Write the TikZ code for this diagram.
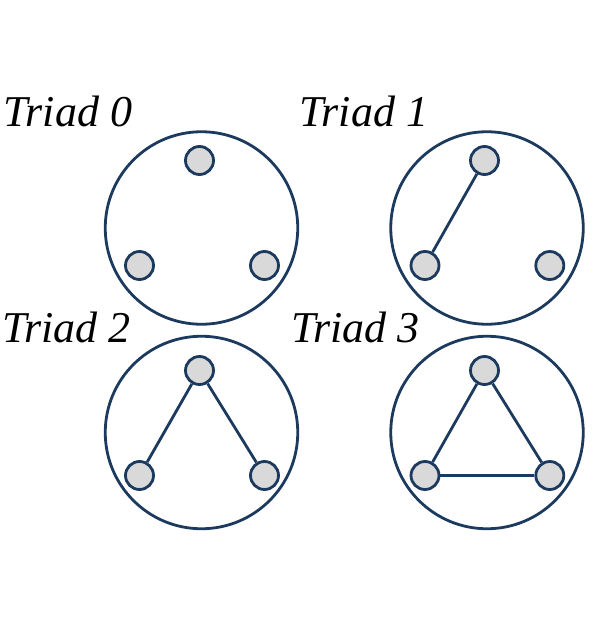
\documentclass[tikz,border=0pt]{standalone}
\usepackage{fontspec}
\setmainfont{Liberation Serif}
\usepackage{xcolor}
\definecolor{ringblue}{HTML}{1C3A5E}
\definecolor{dotgray}{HTML}{D9D9D9}

\begin{document}
\begin{tikzpicture}[x=1pt, y=-1pt,
    ring/.style={circle, draw=ringblue, line width=2.8pt, inner sep=0pt, minimum size=192.5pt},
    member/.style={circle, draw=ringblue, fill=dotgray, line width=2.8pt, inner sep=0pt, minimum size=28pt},
    tie/.style={draw=ringblue, line width=2.8pt},
    title/.style={anchor=base west, inner sep=0pt, font=\fontsize{44}{52}\selectfont\itshape}]
                    \useasboundingbox (0,0) rectangle (598,639);
                    % Triad 0
                    \node[title] (name0) at (3.5,126.7) {Triad 0};
                    \node[ring] (ring0) at (201.5,228) {};
                    \node[member] (a0) at (199.5,160.5) {};
                    \node[member] (b0) at (139.5,265.5) {};
                    \node[member] (c0) at (264.5,265.5) {};
                    % Triad 1
                    \node[title] (name1) at (299.5,126.7) {Triad 1};
                    \node[ring] (ring1) at (487,228) {};
                    \node[member] (a1) at (484.5,160.5) {};
                    \node[member] (b1) at (425,265.5) {};
                    \node[member] (c1) at (549.8,265.5) {};
                    \draw[tie] (a1) -- (b1);
                    % Triad 2
                    \node[title] (name2) at (2,342.7) {Triad 2};
                    \node[ring] (ring2) at (201.5,432.5) {};
                    \node[member] (a2) at (199.5,370.5) {};
                    \node[member] (b2) at (139.5,475.5) {};
                    \node[member] (c2) at (264.5,475.5) {};
                    \draw[tie] (a2) -- (b2);
                    \draw[tie] (a2) -- (c2);
                    % Triad 3
                    \node[title] (name3) at (291,342.7) {Triad 3};
                    \node[ring] (ring3) at (487,432.5) {};
                    \node[member] (a3) at (484.5,370.5) {};
                    \node[member] (b3) at (425,475.5) {};
                    \node[member] (c3) at (549.8,475.5) {};
                    \draw[tie] (a3) -- (b3);
                    \draw[tie] (a3) -- (c3);
                    \draw[tie] (b3) -- (c3);
\end{tikzpicture}
\end{document}
